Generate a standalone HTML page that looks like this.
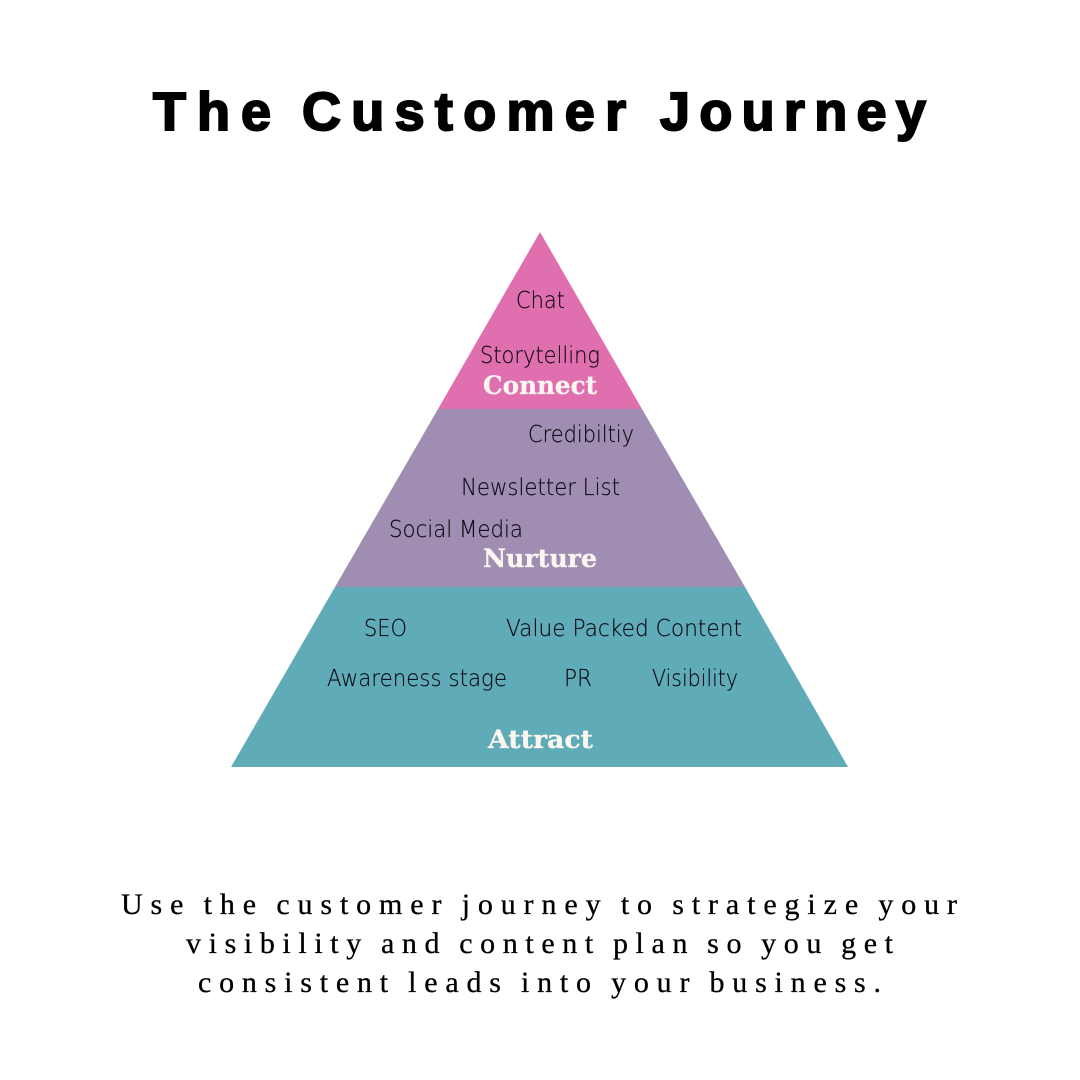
<!DOCTYPE html>
<html><head><meta charset="utf-8"><style>html,body{margin:0;padding:0;background:#fff}svg{display:block}
.b{font-family:"DejaVu Sans","Liberation Sans",sans-serif;font-weight:200;font-size:23px;fill:#0c0812;stroke:#0c0812;stroke-width:.15px}
.h{font-family:"DejaVu Serif","Liberation Serif",serif;font-weight:bold;font-size:25px;fill:#fbf6f0;stroke:#fbf6f0;stroke-width:.3px}
.f{font-family:"Liberation Serif",serif;font-size:30px;word-spacing:-3px;fill:#000;stroke:#000;stroke-width:.3px}
.t{font-family:"Liberation Sans",sans-serif;font-weight:bold;font-size:54px;fill:#000;stroke:#000;stroke-width:2px}</style></head><body>
<svg width="1080" height="1080" viewBox="0 0 1080 1080" xmlns="http://www.w3.org/2000/svg">
<rect width="1080" height="1080" fill="#fff"/>
<text class="t" x="153" y="130" style="letter-spacing:11px">The</text>
<text class="t" x="302" y="130" style="letter-spacing:10.3px">Customer</text>
<text class="t" x="660" y="130" style="letter-spacing:9.3px">Journey</text>
<polygon points="540,232 642,409 438,409" fill="#E06FB0"/>
<polygon points="438,409 642,409 745,587 335,587" fill="#9F8DB2"/>
<polygon points="335,587 745,587 848,767 231,767" fill="#5FABB7"/>
<text class="b" x="516" y="308" textLength="49" lengthAdjust="spacingAndGlyphs">Chat</text>
<text class="b" x="480" y="363" textLength="120" lengthAdjust="spacingAndGlyphs">Storytelling</text>
<text class="h" x="483" y="394" textLength="114" lengthAdjust="spacingAndGlyphs">Connect</text>
<text class="b" x="528" y="442" textLength="106" lengthAdjust="spacingAndGlyphs">Credibiltiy</text>
<text class="b" x="461" y="495" textLength="159" lengthAdjust="spacingAndGlyphs">Newsletter List</text>
<text class="b" x="389" y="537" textLength="134" lengthAdjust="spacingAndGlyphs">Social Media</text>
<text class="h" x="483" y="567" textLength="114" lengthAdjust="spacingAndGlyphs">Nurture</text>
<text class="b" x="364" y="636" textLength="43" lengthAdjust="spacingAndGlyphs">SEO</text>
<text class="b" x="506" y="636" textLength="236" lengthAdjust="spacingAndGlyphs">Value Packed Content</text>
<text class="b" x="327" y="686" textLength="180" lengthAdjust="spacingAndGlyphs">Awareness stage</text>
<text class="b" x="564" y="686" textLength="28" lengthAdjust="spacingAndGlyphs">PR</text>
<text class="b" x="652" y="686" textLength="86" lengthAdjust="spacingAndGlyphs">Visibility</text>
<text class="h" x="488" y="748" textLength="105" lengthAdjust="spacingAndGlyphs">Attract</text>
<text class="f" x="121" y="914" textLength="836" lengthAdjust="spacing">Use the customer journey to strategize your</text>
<text class="f" x="186" y="953" textLength="707" lengthAdjust="spacing">visibility and content plan so you get</text>
<text class="f" x="198" y="992" textLength="683" lengthAdjust="spacing">consistent leads into your business.</text>
</svg></body></html>
